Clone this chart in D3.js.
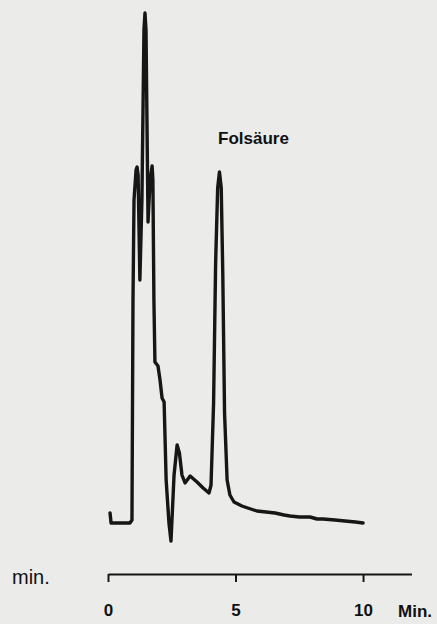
<!DOCTYPE html>
<html>
<head>
<meta charset="utf-8">
<script src="https://cdn.jsdelivr.net/npm/d3@7"></script>
<style>
  html, body { margin: 0; padding: 0; background: #ebebea; }
  #chart { width: 437px; height: 624px; }
  text { font-family: "Liberation Sans", Arial, sans-serif; fill: #111; }
</style>
</head>
<body>
<div id="chart"></div>
<script>
// retention time (min) and detector signal (arbitrary units)
const time = [0.08, 0.12, 0.86, 0.94, 0.98, 1.02, 1.10, 1.14, 1.18, 1.25, 1.33, 1.41, 1.45, 1.49,
    1.57, 1.65, 1.73, 1.76, 1.80, 1.84, 1.96, 2.04, 2.12, 2.16, 2.20, 2.28, 2.39, 2.47, 2.59,
    2.71, 2.80, 2.90, 3.02, 3.22, 3.49, 3.73, 3.96, 4.04, 4.14, 4.22, 4.30, 4.37, 4.44,
    4.50, 4.57, 4.67, 4.78, 4.94, 5.25, 5.60, 5.84, 6.20, 6.55, 6.90, 7.14, 7.50, 7.92, 8.20,
    8.43, 8.90, 9.29, 9.70, 10.0];
const signal = [10, 0, 0, 3, 223, 323, 353, 356, 348, 243, 323, 493, 510, 493,
    301, 343, 357, 343, 223, 161, 157, 143, 125, 123, 121, 43, 0, -18, 48,
    78, 70, 48, 40, 47, 41, 35, 30, 38, 120, 260, 335, 351, 335,
    250, 110, 43, 28, 21, 17, 14, 12, 11, 10, 8, 7, 6, 6, 4,
    4, 3, 2, 1, 0];
const tickValues = [0, 5, 10];
const peakLabel = "Folsäure";

const width = 437, height = 624;

const svg = d3.select("#chart")
    .append("svg")
    .attr("width", width)
    .attr("height", height);

const x = d3.scaleLinear().domain([0, 11.9]).range([108, 411.5]);
const y = d3.scaleLinear().domain([0, 510]).range([523, 13]);

const line = d3.line()
    .x((d, i) => x(time[i]))
    .y(d => y(d));

svg.append("path")
    .datum(signal)
    .attr("d", line)
    .attr("fill", "none")
    .attr("stroke", "#161616")
    .attr("stroke-width", 3.4)
    .attr("stroke-linejoin", "round")
    .attr("stroke-linecap", "round");

svg.append("text")
    .attr("x", 218)
    .attr("y", 144)
    .style("font-size", "17px")
    .style("font-weight", "bold")
    .text(peakLabel);

// time axis
const axis = svg.append("g")
    .attr("transform", "translate(0,574)")
    .call(d3.axisBottom(x).tickValues(tickValues).tickSize(8).tickSizeOuter(0).tickPadding(22));

axis.select(".domain").attr("stroke", "#161616").attr("stroke-width", 2);
axis.selectAll(".tick line").attr("stroke", "#161616").attr("stroke-width", 2);
axis.selectAll(".tick text")
    .style("font-family", "'Liberation Sans', Arial, sans-serif")
    .style("font-size", "17px")
    .style("font-weight", "bold")
    .attr("fill", "#111");

svg.append("text")
    .attr("x", 398)
    .attr("y", 617)
    .style("font-size", "17px")
    .style("font-weight", "bold")
    .text("Min.");

svg.append("text")
    .attr("x", 12)
    .attr("y", 584)
    .style("font-size", "20px")
    .text("min.");
</script>
</body>
</html>
